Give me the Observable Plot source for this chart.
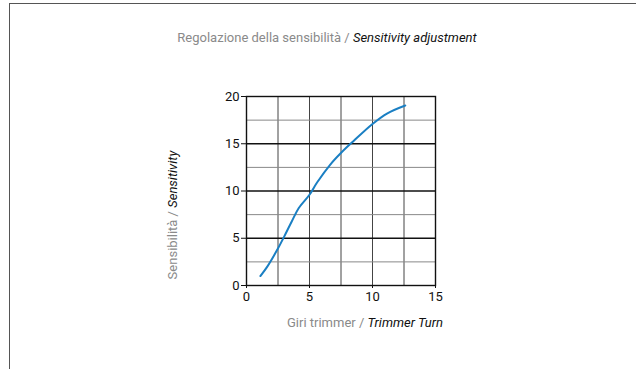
<!DOCTYPE html>
<html>
<head>
<meta charset="utf-8">
<script src="https://cdn.jsdelivr.net/npm/d3@7"></script>
<script src="https://cdn.jsdelivr.net/npm/@observablehq/plot@0.6"></script>
<style>
  html, body { margin: 0; padding: 0; background: #fff; }
  #wrap { position: relative; width: 636px; height: 369px; overflow: hidden; }
  #frame { position: absolute; left: 9px; top: 3px; width: 700px; height: 400px;
           border-top: 1.5px solid #555; border-left: 1.5px solid #555; }
  svg text { font-family: "Liberation Sans Narrow", "Roboto", sans-serif; }
</style>
</head>
<body>
<div id="wrap"><div id="frame"></div></div>
<script>
// Data
const turns       = [1.1, 1.65, 2.45, 3.0, 3.6, 4.15, 5.0, 5.6, 6.65, 7.55, 8.5, 10.0, 11.15, 12.6];
const sensitivity = [1.0, 2.0, 3.8, 5.2, 6.8, 8.2, 9.6, 10.9, 12.8, 14.1, 15.3, 17.1, 18.2, 19.05];
const xTicks = [0, 5, 10, 15];
const yTicks = [0, 5, 10, 15, 20];
const gridX = [2.5, 5, 7.5, 10, 12.5];
const gridYMajor = [5, 10, 15];
const gridYMinor = [2.5, 7.5, 12.5, 17.5];
const titleIt = "Regolazione della sensibilità / ";
const titleEn = "Sensitivity adjustment";
const xLabelIt = "Giri trimmer / ";
const xLabelEn = "Trimmer Turn";
const yLabelIt = "Sensibilità / ";
const yLabelEn = "Sensitivity";

const data = turns.map((t, i) => ({x: t, y: sensitivity[i]}));

const chart = Plot.plot({
  width: 636,
  height: 369,
  marginLeft: 246,
  marginRight: 201,
  marginTop: 96,
  marginBottom: 84,
  style: {fontFamily: "'Liberation Sans Narrow', Roboto, sans-serif", fontSize: "12px", color: "#111", background: "transparent"},
  x: {domain: [0, 15]},
  y: {domain: [0, 20]},
  marks: [
    Plot.ruleX(gridX, {stroke: "#444", strokeWidth: 1}),
    Plot.ruleY(gridYMinor, {stroke: "#888", strokeWidth: 1}),
    Plot.ruleY(gridYMajor, {stroke: "#111", strokeWidth: 1.4}),
    Plot.frame({stroke: "#111", strokeWidth: 1.4}),
    Plot.axisX(xTicks, {tickSize: 3, tickPadding: 3, fontSize: 13, stroke: "#111", label: null}),
    Plot.axisY(yTicks, {tickSize: 5, tickPadding: 2, fontSize: 13, label: null}),
    Plot.line(data, {x: "x", y: "y", curve: "catmull-rom", stroke: "#1a7fc3", strokeWidth: 2})
  ]
});

const wrap = document.getElementById("wrap");
chart.style.position = "absolute";
chart.style.left = "0";
chart.style.top = "0";
wrap.appendChild(chart);

const svg = d3.select(chart);
function twoPart(x, y, it, en, rotate) {
  const t = svg.append("text")
    .attr("text-anchor", "middle")
    .attr("font-size", 13)
    .attr("font-family", "'Liberation Sans Narrow', Roboto, sans-serif")
    .attr("transform", rotate ? `translate(${x},${y}) rotate(-90)` : `translate(${x},${y})`);
  t.append("tspan").attr("fill", "#8a8a8a").text(it);
  t.append("tspan").attr("fill", "#111").attr("font-style", "italic").text(en);
}
twoPart(327, 42, titleIt, titleEn, false);
twoPart(365, 327, xLabelIt, xLabelEn, false);
twoPart(177, 215, yLabelIt, yLabelEn, true);
</script>
</body>
</html>
